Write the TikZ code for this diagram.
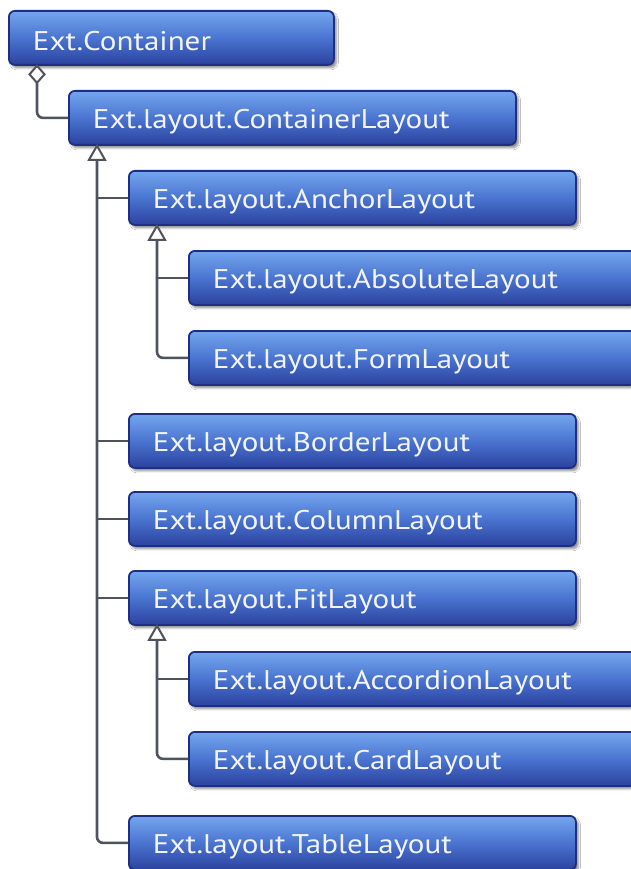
\documentclass[tikz,border=0pt]{standalone}
\usepackage{fontspec}
\setmainfont{PT Sans}[FakeStretch=1.15]
\usetikzlibrary{calc,shadows.blur}
\definecolor{boxtop}{HTML}{74A6EE}
\definecolor{boxmid}{HTML}{4A74D0}
\definecolor{boxbot}{HTML}{2A429E}
\definecolor{boxline}{HTML}{1E2F82}
\definecolor{conncol}{HTML}{4E535E}
\definecolor{txtcol}{HTML}{F2F5FF}
\tikzset{
  cls/.style={draw=boxline, line width=1.8pt, rounded corners=6pt,
    top color=boxtop, bottom color=boxbot, middle color=boxmid,
    text=txtcol, anchor=north west, minimum height=54pt, inner ysep=0pt,
    inner xsep=24pt, text width=399pt, align=left,
    font=\fontsize{27}{30}\selectfont,
    blur shadow={shadow xshift=2.5pt, shadow yshift=-3pt, shadow blur steps=6, shadow opacity=45}},
  clsshort/.style={cls, text width=277pt},
  conn/.style={draw=conncol, line width=2.6pt, rounded corners=6pt},
  tri/.style={draw=conncol, line width=2pt, fill=white, line join=miter},
  diam/.style={draw=conncol, line width=2pt, fill=white},
}
\newcommand{\lbl}[1]{\raisebox{-3.5pt}[\height][\depth]{#1}}
\begin{document}
\begin{tikzpicture}[x=1pt,y=-1pt]
\path[use as bounding box] (0,0) rectangle (631,869);
\clip (0,0) rectangle (631,869);
\fill[white] (0,0) rectangle (631,869);

\node[clsshort] (c1) at (8,10) {\lbl{Ext.Container}};
\node[cls] (c2) at (68,90) {\lbl{Ext.layout.ContainerLayout}};
\node[cls] (anchor) at (128,170) {\lbl{Ext.layout.AnchorLayout}};
\node[cls] (absolute) at (188,250) {\lbl{Ext.layout.AbsoluteLayout}};
\node[cls] (form) at (188,330) {\lbl{Ext.layout.FormLayout}};
\node[cls] (border) at (128,413) {\lbl{Ext.layout.BorderLayout}};
\node[cls] (column) at (128,491) {\lbl{Ext.layout.ColumnLayout}};
\node[cls] (fit) at (128,570) {\lbl{Ext.layout.FitLayout}};
\node[cls] (accordion) at (188,651) {\lbl{Ext.layout.AccordionLayout}};
\node[cls] (card) at (188,731) {\lbl{Ext.layout.CardLayout}};
\node[cls] (table) at (128,815) {\lbl{Ext.layout.TableLayout}};

% aggregation: Container -> ContainerLayout
\coordinate (d1) at ($(c1.south west)+(29,0)$);
\draw[conn] ($(d1)+(0,17)$) |- (c2.west);
\draw[diam] (d1) -- ++(7.5,8.5) -- ++(-7.5,8.5) -- ++(-7.5,-8.5) -- cycle;

% generalization trunk from ContainerLayout
\coordinate (t2) at ($(c2.south west)+(29,0)$);
\draw[conn] ($(t2)+(0,14)$) |- (table.west);
\draw[conn] (t2 |- anchor.west) -- (anchor.west);
\draw[conn] (t2 |- border.west) -- (border.west);
\draw[conn] (t2 |- column.west) -- (column.west);
\draw[conn] (t2 |- fit.west) -- (fit.west);
\draw[tri] (t2) -- ++(-8,14) -- ++(16,0) -- cycle;

% AnchorLayout subtree
\coordinate (t3) at ($(anchor.south west)+(29,0)$);
\draw[conn] ($(t3)+(0,14)$) |- (form.west);
\draw[conn] (t3 |- absolute.west) -- (absolute.west);
\draw[tri] (t3) -- ++(-8,14) -- ++(16,0) -- cycle;

% FitLayout subtree
\coordinate (t4) at ($(fit.south west)+(29,0)$);
\draw[conn] ($(t4)+(0,14)$) |- (card.west);
\draw[conn] (t4 |- accordion.west) -- (accordion.west);
\draw[tri] (t4) -- ++(-8,14) -- ++(16,0) -- cycle;
\end{tikzpicture}
\end{document}
